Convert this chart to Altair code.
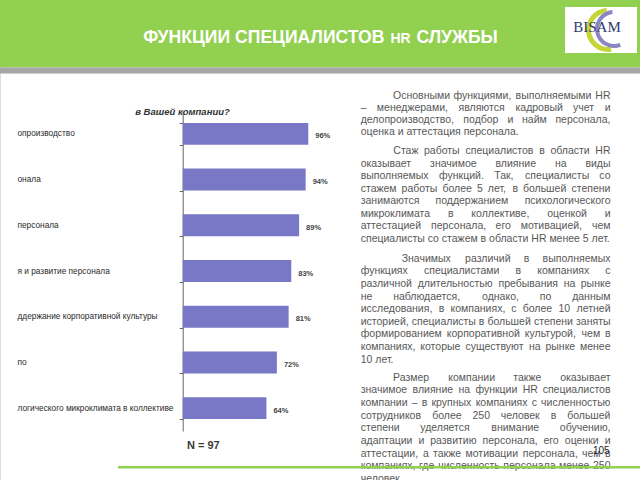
import altair as alt
import pandas as pd

# ---------------- data ----------------
categories = [
    "опроизводство",
    "онала",
    "персонала",
    "я и развитие персонала",
    "ддержание корпоративной культуры",
    "по",
    "логического микроклимата в коллективе",
]
values = [96, 94, 89, 83, 81, 72, 64]

chart_title = "в Вашей компании?"
n_note = "N = 97"
page_number = "105"

para1 = [
    "Основными функциями, выполняемыми HR",
    "– менеджерами, являются кадровый учет и",
    "делопроизводство, подбор и найм персонала,",
    "оценка и аттестация персонала.",
]
para2 = [
    "Стаж работы специалистов в области HR",
    "оказывает значимое влияние на виды",
    "выполняемых функций. Так, специалисты со",
    "стажем работы более 5 лет, в большей степени",
    "занимаются поддержанием психологического",
    "микроклимата в коллективе, оценкой и",
    "аттестацией персонала, его мотивацией, чем",
    "специалисты со стажем в области HR менее 5 лет.",
]
para3 = [
    "Значимых различий в выполняемых",
    "функциях специалистами в компаниях с",
    "различной длительностью пребывания на рынке",
    "не наблюдается, однако, по данным",
    "исследования, в компаниях, с более 10 летней",
    "историей, специалисты в большей степени заняты",
    "формированием корпоративной культурой, чем в",
    "компаниях, которые существуют на рынке менее",
    "10 лет.",
]
para4 = [
    "Размер компании также оказывает",
    "значимое влияние на функции HR специалистов",
    "компании – в крупных компаниях с численностью",
    "сотрудников более 250 человек в большей",
    "степени уделяется внимание обучению,",
    "адаптации и развитию персонала, его оценки и",
    "аттестации, а также мотивации персонала, чем в",
    "компаниях, где численность персонала менее 250",
    "человек.",
]

# ---------------- layout helpers ----------------
FS = 10.5
W = {
    "а": 556, "б": 573, "в": 531, "г": 365, "д": 583, "е": 556, "ё": 556, "ж": 669,
    "з": 458, "и": 559, "й": 559, "к": 438, "л": 583, "м": 688, "н": 552, "о": 556,
    "п": 542, "р": 556, "с": 500, "т": 458, "у": 500, "ф": 823, "х": 500, "ц": 573,
    "ч": 521, "ш": 802, "щ": 823, "ъ": 625, "ы": 719, "ь": 521, "э": 510, "ю": 750,
    "я": 542, " ": 278, ",": 278, ".": 278, "–": 556, "?": 556, "%": 889,
}


def est(s):
    tot = 0
    for ch in s:
        if ch in W:
            tot += W[ch]
        elif ch.isdigit():
            tot += 556
        elif ch.isupper():
            tot += 700
        else:
            tot += 550
    return tot / 1000 * FS


LEFT, RIGHT = 360.7, 610.5
paras = [
    (para1, 393.0, 95.5, 12.25),
    (para2, 393.3, 151.0, 12.5),
    (para3, 401.7, 258.8, 12.6),
    (para4, 393.0, 377.8, 12.65),
]
left_rows, right_rows = [], []
for lines, indent, y0, dy in paras:
    for i, line in enumerate(lines):
        y = y0 + i * dy
        x0 = indent if i == 0 else LEFT
        words = line.split(" ")
        if i == len(lines) - 1 or len(words) == 1:
            left_rows.append({"px": x0, "py": y, "t": line})
            continue
        ws = [est(w) for w in words]
        gap = (RIGHT - x0 - sum(ws)) / (len(words) - 1)
        x = x0
        for j, (w, wd) in enumerate(zip(words, ws)):
            if j == len(words) - 1:
                right_rows.append({"px": RIGHT, "py": y, "t": w})
            else:
                left_rows.append({"px": x, "py": y, "t": w})
            x += wd + gap

one = pd.DataFrame({"a": [0]})
bar_df = pd.DataFrame({"cat": categories, "value": values})
bar_df["label"] = [f"{v}%" for v in values]

GREEN = "#92d050"
BAR = "#7878c6"

# ---------------- layers ----------------
header = alt.Chart(one).mark_rect(color=GREEN).encode(
    x=alt.value(0), x2=alt.value(640), y=alt.value(0), y2=alt.value(67.5))
header_line = alt.Chart(one).mark_rect(color="#a6a6a6").encode(
    x=alt.value(0), x2=alt.value(640), y=alt.value(67.5), y2=alt.value(73.5))

tfont = dict(font="Liberation Sans", fontWeight="bold", color="white", baseline="middle")
title1 = alt.Chart(one).mark_text(text="ФУНКЦИИ СПЕЦИАЛИСТОВ", align="right", fontSize=17.6, **tfont).encode(
    x=alt.value(384.5), y=alt.value(37.5))
title2 = alt.Chart(one).mark_text(text="HR", align="left", fontSize=14, **tfont).encode(
    x=alt.value(390.5), y=alt.value(38.5))
title3 = alt.Chart(one).mark_text(text="СЛУЖБЫ", align="left", fontSize=17.6, **tfont).encode(
    x=alt.value(416.5), y=alt.value(37.5))

logo_box = alt.Chart(one).mark_rect(color="white").encode(
    x=alt.value(565), x2=alt.value(637), y=alt.value(7), y2=alt.value(53))
arc_green = alt.Chart(one).mark_arc(
    theta=3.14159 * 0.95, theta2=3.14159 * 1.98, innerRadius=17, outerRadius=22, color="#c5d535"
).encode(x=alt.value(608), y=alt.value(30))
arc_purple = alt.Chart(one).mark_arc(
    theta=3.14159 * 0.88, theta2=3.14159 * 1.97, innerRadius=15, outerRadius=19, color="#8a86c4"
).encode(x=alt.value(614), y=alt.value(29))
logo_text = alt.Chart(one).mark_text(
    text="BISAM", font="Liberation Serif", fontSize=15, color="#2f3a72", align="center", baseline="middle"
).encode(x=alt.value(597), y=alt.value(27))

ctitle = alt.Chart(one).mark_text(
    text=chart_title, font="Liberation Sans", fontSize=9.5, fontWeight="bold", fontStyle="italic",
    color="#333333", align="center", baseline="middle"
).encode(x=alt.value(182.5), y=alt.value(112))

xs = alt.Scale(domain=[0, 100], range=[182.7, 313.5])
ys = alt.Scale(range=[111, 431], paddingInner=0.52, paddingOuter=0.26)

bars = alt.Chart(bar_df).mark_bar(color=BAR).encode(
    x=alt.X("value:Q", scale=xs, axis=None),
    y=alt.Y("cat:N", sort=categories, scale=ys, axis=alt.Axis(
        title=None, orient="left", offset=-182.7, domainColor="#666666", domainWidth=1,
        tickColor="#666666", tickSize=3.5, tickBand="extent", labelAlign="left",
        labelPadding=162.2, labelFontSize=8.3, labelColor="#2a2a2a", labelFont="Liberation Sans",
        labelBaseline="middle", labelLimit=170, labelOverlap=False, grid=False)),
)
vlabels = alt.Chart(bar_df).mark_text(
    align="left", baseline="middle", dx=7, dy=2.5, fontSize=7.5, color="#444444",
    font="Liberation Sans", fontWeight="bold"
).encode(x=alt.X("value:Q", scale=xs, axis=None),
         y=alt.Y("cat:N", sort=categories, scale=ys), text="label:N")

ptext = dict(baseline="middle", fontSize=FS, color="#585858", font="Liberation Sans")
words_left = alt.Chart(pd.DataFrame(left_rows)).mark_text(align="left", **ptext).encode(
    x=alt.X("px:Q", scale=None, axis=None), y=alt.Y("py:Q", scale=None, axis=None), text="t:N")
words_right = alt.Chart(pd.DataFrame(right_rows)).mark_text(align="right", **ptext).encode(
    x=alt.X("px:Q", scale=None, axis=None), y=alt.Y("py:Q", scale=None, axis=None), text="t:N")

nnote = alt.Chart(one).mark_text(
    text=n_note, font="Liberation Sans", fontSize=11, fontWeight="bold", color="#3a3a3a",
    align="left", baseline="middle").encode(x=alt.value(187), y=alt.value(446))
pnum = alt.Chart(one).mark_text(
    text=page_number, font="Liberation Sans", fontSize=10, color="#222222",
    align="left", baseline="middle").encode(x=alt.value(593), y=alt.value(451))
bottom_line = alt.Chart(one).mark_rule(color=GREEN, strokeWidth=2.6).encode(
    x=alt.value(118), x2=alt.value(640), y=alt.value(467.3))

chart = alt.layer(
    header, header_line, title1, title2, title3, logo_box, arc_green, arc_purple, logo_text,
    ctitle, bars, vlabels, words_left, words_right, nnote, pnum, bottom_line
).properties(
    width=640, height=480, autosize=alt.AutoSizeParams(type="none"), padding=0
).configure_view(strokeWidth=0).configure(background="white")

chart.save("out.html", embed_options={"renderer": "svg", "actions": False})
